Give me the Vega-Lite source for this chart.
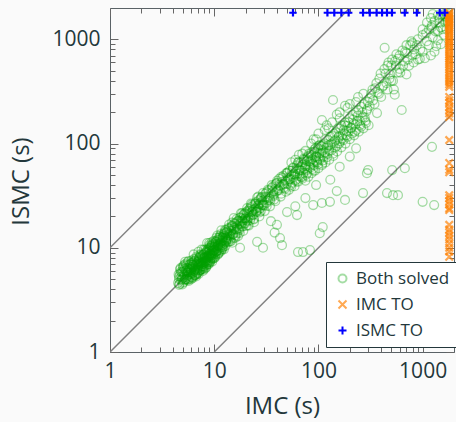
{
"$schema": "https://vega.github.io/schema/vega-lite/v6.json",
"width": 344, "height": 344,
"autosize": {"type": "none"},
"padding": {"left": 110, "top": 8, "right": 2, "bottom": 70},
"background": "#fafafa",
"config": {"view": {"stroke": "#5a6266", "strokeWidth": 1}, "font": "Open Sans"},
"datasets": {
"diag1": [{"x":1,"y":1},{"x":2000,"y":2000}],
"diagA": [{"x":1,"y":10},{"x":200,"y":2000}],
"diagC": [{"x":10,"y":1},{"x":2000,"y":200}],
"green": [
{"x":4.5,"y":4.6},{"x":4.6,"y":5.3},{"x":4.7,"y":6.2},{"x":4.8,"y":4.9},{"x":4.9,"y":5.8},{"x":5.0,"y":5.1},{"x":5.0,"y":6.6},{"x":5.1,"y":4.7},{"x":5.2,"y":5.5},{"x":5.3,"y":6.0},{"x":5.3,"y":7.0},{"x":5.4,"y":5.2},{"x":5.5,"y":5.8},{"x":5.6,"y":4.9},{"x":5.6,"y":6.4},{"x":5.7,"y":5.5},{"x":5.8,"y":6.9},{"x":5.9,"y":5.3},{"x":6.0,"y":6.1},{"x":6.0,"y":5.0},{"x":6.1,"y":7.2},{"x":6.2,"y":5.7},{"x":6.3,"y":6.6},{"x":6.4,"y":5.4},{"x":6.5,"y":6.2},{"x":6.5,"y":7.6},{"x":6.6,"y":5.9},{"x":6.7,"y":6.8},{"x":6.8,"y":5.6},{"x":6.9,"y":7.3},{"x":7.0,"y":6.4},{"x":7.0,"y":5.8},{"x":7.1,"y":7.9},{"x":7.2,"y":6.9},{"x":7.3,"y":6.1},{"x":7.4,"y":7.4},{"x":7.5,"y":6.7},{"x":7.6,"y":8.3},{"x":7.7,"y":6.3},{"x":7.8,"y":7.6},{"x":7.9,"y":7.0},{"x":8.0,"y":8.7},{"x":8.0,"y":6.6},{"x":8.2,"y":7.9},{"x":8.3,"y":7.2},{"x":8.4,"y":9.2},{"x":8.5,"y":7.0},{"x":8.6,"y":8.4},{"x":8.8,"y":7.6},{"x":8.9,"y":9.6},{"x":9.0,"y":8.1},{"x":9.1,"y":7.3},{"x":9.2,"y":8.9},{"x":9.4,"y":10.3},{"x":9.5,"y":8.5},{"x":9.6,"y":7.8},{"x":9.8,"y":9.3},{"x":10.0,"y":10.8},{"x":10.0,"y":8.9},{"x":10.2,"y":8.2},{"x":10.4,"y":9.8},{"x":10.5,"y":11.4},{"x":10.7,"y":9.4},{"x":10.9,"y":10.4},{"x":11.0,"y":8.8},{"x":11.2,"y":12.0},{"x":11.4,"y":10.0},{"x":11.6,"y":11.0},{"x":11.8,"y":9.6},{"x":12.0,"y":12.6},
{"x":4.6,"y":4.4},{"x":4.7,"y":5.6},{"x":4.9,"y":5.0},{"x":5.0,"y":5.9},{"x":5.1,"y":6.8},{"x":5.2,"y":4.9},{"x":5.4,"y":6.1},{"x":5.5,"y":5.0},{"x":5.6,"y":7.3},{"x":5.8,"y":5.6},{"x":5.9,"y":6.3},{"x":6.1,"y":5.2},{"x":6.2,"y":6.9},{"x":6.3,"y":5.8},{"x":6.4,"y":7.8},{"x":6.6,"y":6.4},{"x":6.7,"y":5.3},{"x":6.9,"y":6.1},{"x":7.0,"y":7.0},{"x":7.1,"y":5.6},{"x":7.3,"y":8.2},{"x":7.4,"y":6.5},{"x":7.6,"y":7.2},{"x":7.8,"y":6.0},{"x":7.9,"y":8.6},{"x":8.1,"y":7.4},{"x":8.3,"y":6.4},{"x":8.4,"y":8.0},{"x":8.6,"y":9.5},{"x":8.7,"y":6.9},{"x":8.9,"y":8.3},{"x":9.0,"y":9.9},{"x":9.2,"y":7.6},{"x":9.3,"y":8.7},{"x":9.5,"y":10.6},{"x":9.7,"y":9.0},{"x":9.9,"y":7.9},{"x":10.1,"y":10.1},{"x":10.3,"y":11.6},{"x":10.5,"y":9.2},{"x":10.8,"y":10.9},{"x":11.0,"y":12.4},{"x":11.3,"y":9.5},{"x":11.5,"y":11.3},{"x":11.8,"y":10.4},{"x":12.1,"y":11.8},{"x":12.3,"y":13.5},{"x":12.5,"y":10.9},{"x":12.8,"y":12.4},{"x":13.0,"y":11.3},
{"x":4.55,"y":5.55},{"x":4.65,"y":4.5},{"x":4.75,"y":6.4},{"x":4.85,"y":5.25},{"x":4.95,"y":4.45},{"x":5.05,"y":6.45},{"x":5.15,"y":5.25},{"x":5.25,"y":7.35},{"x":5.35,"y":4.98},{"x":5.45,"y":6.38},{"x":5.55,"y":5.83},{"x":5.65,"y":7.46},{"x":5.75,"y":5.06},{"x":5.85,"y":6.55},{"x":5.95,"y":5.83},{"x":6.05,"y":7.56},{"x":6.15,"y":5.23},{"x":6.25,"y":6.81},{"x":6.35,"y":8.64},{"x":6.45,"y":6.06},{"x":6.55,"y":7.47},{"x":6.65,"y":5.45},{"x":6.75,"y":8.24},{"x":6.85,"y":7.06},{"x":6.95,"y":6.26},{"x":7.05,"y":9.17},{"x":7.15,"y":7.65},{"x":7.25,"y":6.09},{"x":7.35,"y":8.67},{"x":7.45,"y":7.15},{"x":7.55,"y":9.59},{"x":7.65,"y":6.66},{"x":7.75,"y":8.53},{"x":7.85,"y":6.28},{"x":7.95,"y":9.62},{"x":8.05,"y":8.05},{"x":8.15,"y":7.25},{"x":8.25,"y":9.57},{"x":8.35,"y":6.51},{"x":8.45,"y":8.96},{"x":8.55,"y":11.1},{"x":8.65,"y":7.96},{"x":8.75,"y":9.89},{"x":8.85,"y":7.35},{"x":8.95,"y":11.1},{"x":9.05,"y":8.78},{"x":9.15,"y":7.32},{"x":9.25,"y":10.4},{"x":9.35,"y":8.42},{"x":9.45,"y":11.3},{"x":9.55,"y":7.35},{"x":9.65,"y":10.1},{"x":9.75,"y":8.39},{"x":9.85,"y":11.6},{"x":9.95,"y":9.45},{"x":10.1,"y":7.98},{"x":10.3,"y":11.3},{"x":10.5,"y":9.24},{"x":10.7,"y":13.1},{"x":10.9,"y":10.6},{"x":11.1,"y":8.99},{"x":11.3,"y":12.9},{"x":11.5,"y":10.6},{"x":11.7,"y":14.7},{"x":11.9,"y":10.1},{"x":12.1,"y":12.5},{"x":12.4,"y":9.67},{"x":12.7,"y":14.9},{"x":13.0,"y":12.1},{"x":13.3,"y":14.4},{"x":13.6,"y":11.4},{"x":13.9,"y":16.7},{"x":14.2,"y":13.6},{"x":14.5,"y":11.6},{"x":14.8,"y":16.4},{"x":15.1,"y":13.4},{"x":15.4,"y":19.3},{"x":15.7,"y":15.5},{"x":16.0,"y":13.1},{"x":16.4,"y":18.9},{"x":16.8,"y":15.3},{"x":17.2,"y":18.1},{"x":17.6,"y":13.9},{"x":18.0,"y":21.4},{"x":18.4,"y":17.3},{"x":18.8,"y":16.0},{"x":19.2,"y":21.1},{"x":19.7,"y":19.1},{"x":20.2,"y":16.2},{"x":20.7,"y":24.0},{"x":21.2,"y":19.1},{"x":21.7,"y":22.6},{"x":22.2,"y":18.4},{"x":22.8,"y":25.8},{"x":23.4,"y":22.2},{"x":24.0,"y":18.7},{"x":24.6,"y":26.6},{"x":25.2,"y":22.2},{"x":25.8,"y":30.4},{"x":26.5,"y":24.6},{"x":27.2,"y":21.8},{"x":27.9,"y":29.6},{"x":28.6,"y":25.7},{"x":29.4,"y":33.5},{"x":30.2,"y":25.4},{"x":31.0,"y":31.0},{"x":31.9,"y":25.2},{"x":32.8,"y":36.1},{"x":33.7,"y":30.7},{"x":34.6,"y":28.4},{"x":35.6,"y":39.9},{"x":36.6,"y":34.8},{"x":37.6,"y":29.0},{"x":38.7,"y":40.6},{"x":39.8,"y":35.0},
{"x":4.6,"y":5.0},{"x":4.8,"y":5.9},{"x":5.0,"y":4.6},{"x":5.1,"y":5.6},{"x":5.2,"y":6.3},{"x":5.3,"y":5.0},{"x":5.4,"y":6.8},{"x":5.5,"y":5.4},{"x":5.6,"y":6.0},{"x":5.7,"y":4.8},{"x":5.8,"y":6.2},{"x":5.9,"y":7.0},{"x":6.0,"y":5.6},{"x":6.1,"y":6.5},{"x":6.2,"y":5.1},{"x":6.3,"y":7.3},{"x":6.4,"y":6.0},{"x":6.5,"y":5.5},{"x":6.6,"y":7.0},{"x":6.7,"y":6.2},{"x":6.8,"y":8.0},{"x":6.9,"y":5.7},{"x":7.0,"y":6.7},{"x":7.1,"y":7.4},{"x":7.2,"y":6.0},{"x":7.3,"y":7.0},{"x":7.4,"y":8.5},{"x":7.5,"y":6.2},{"x":7.6,"y":6.9},{"x":7.7,"y":7.8},{"x":7.8,"y":6.6},{"x":7.9,"y":7.3},{"x":8.0,"y":6.2},{"x":8.1,"y":8.2},{"x":8.2,"y":9.0},{"x":8.3,"y":7.6},{"x":8.4,"y":6.8},{"x":8.5,"y":8.1},{"x":8.6,"y":7.2},{"x":8.7,"y":9.1},{"x":8.8,"y":8.4},{"x":8.9,"y":7.0},{"x":9.0,"y":9.4},{"x":9.1,"y":8.5},{"x":9.2,"y":7.9},{"x":9.3,"y":10.0},{"x":9.4,"y":8.0},{"x":9.5,"y":9.3},{"x":9.6,"y":8.7},{"x":9.7,"y":11.0},{"x":9.8,"y":8.1},{"x":9.9,"y":10.2},{"x":10.0,"y":9.4},{"x":10.2,"y":10.6},{"x":10.4,"y":8.7},{"x":10.6,"y":10.2},{"x":10.8,"y":11.9},{"x":11.0,"y":9.9},{"x":11.2,"y":10.8},{"x":11.4,"y":12.6},{"x":11.6,"y":9.3},{"x":11.8,"y":11.6},{"x":12.0,"y":10.6},{"x":12.2,"y":12.9},{"x":12.4,"y":11.2},{"x":12.6,"y":13.8},{"x":12.8,"y":10.4},{"x":13.0,"y":12.6},{"x":13.2,"y":11.8},{"x":13.4,"y":13.3},
{"x":12.5,"y":13.0},{"x":12.9,"y":11.6},{"x":13.2,"y":14.1},{"x":13.5,"y":12.5},{"x":13.8,"y":15.2},{"x":14.0,"y":13.2},{"x":14.3,"y":12.0},{"x":14.6,"y":14.6},{"x":15.0,"y":16.2},{"x":15.2,"y":13.6},{"x":15.5,"y":14.9},{"x":15.9,"y":17.0},{"x":16.2,"y":14.2},{"x":16.5,"y":16.0},{"x":16.9,"y":18.2},{"x":17.2,"y":15.2},{"x":17.6,"y":17.1},{"x":18.0,"y":19.5},{"x":18.3,"y":16.0},{"x":18.7,"y":18.1},{"x":19.1,"y":20.6},{"x":19.5,"y":17.2},{"x":20.0,"y":19.2},{"x":20.4,"y":22.0},{"x":20.8,"y":18.0},{"x":21.3,"y":20.8},{"x":21.8,"y":23.5},{"x":22.3,"y":19.3},{"x":22.8,"y":22.0},{"x":23.3,"y":25.0},{"x":23.8,"y":20.8},{"x":24.4,"y":23.6},{"x":25.0,"y":26.5},{"x":25.5,"y":22.0},{"x":26.1,"y":25.3},{"x":26.8,"y":28.5},{"x":27.4,"y":23.8},{"x":28.0,"y":27.0},{"x":28.7,"y":30.5},{"x":29.5,"y":25.5},{"x":30.2,"y":29.0},{"x":31.0,"y":33.0},{"x":31.8,"y":27.0},{"x":32.6,"y":31.0},{"x":33.5,"y":35.5},{"x":34.4,"y":29.5},{"x":35.3,"y":33.5},{"x":36.3,"y":38.5},{"x":37.3,"y":31.5},{"x":38.4,"y":36.5},{"x":39.5,"y":41.5},
{"x":13.0,"y":14.8},{"x":14.1,"y":11.5},{"x":15.3,"y":15.5},{"x":16.6,"y":13.8},{"x":17.9,"y":17.9},{"x":19.3,"y":18.4},{"x":20.6,"y":21.2},{"x":22.0,"y":20.2},{"x":23.5,"y":23.0},{"x":25.2,"y":24.0},{"x":27.0,"y":26.4},{"x":29.0,"y":28.3},{"x":14.8,"y":17.5},{"x":18.5,"y":21.5},{"x":22.5,"y":26.5},{"x":26.5,"y":31.0},{"x":16.0,"y":12.5},{"x":21.0,"y":16.5},{"x":24.0,"y":19.0},{"x":28.0,"y":22.5},
{"x":10.5,"y":12.5},{"x":11.0,"y":10.3},{"x":11.5,"y":13.5},{"x":12.0,"y":9.8},{"x":12.6,"y":14.2},{"x":13.1,"y":12.0},{"x":13.7,"y":15.5},{"x":14.3,"y":13.0},{"x":14.9,"y":11.2},{"x":15.6,"y":17.2},{"x":16.2,"y":15.0},{"x":16.9,"y":12.9},{"x":17.6,"y":19.5},{"x":18.3,"y":16.8},{"x":19.0,"y":14.5},{"x":19.8,"y":21.5},{"x":20.6,"y":18.4},{"x":21.4,"y":16.3},{"x":22.3,"y":24.5},{"x":23.2,"y":20.5},{"x":24.1,"y":17.6},{"x":25.1,"y":27.5},{"x":26.1,"y":23.0},{"x":27.1,"y":20.0},{"x":28.2,"y":30.5},{"x":29.3,"y":26.0},{"x":30.5,"y":22.5},{"x":31.7,"y":34.0},{"x":33.0,"y":28.5},{"x":34.3,"y":25.0},{"x":35.7,"y":37.5},{"x":37.1,"y":32.5},{"x":38.6,"y":28.0},{"x":40.1,"y":44.0},{"x":41.7,"y":35.5},{"x":43.4,"y":31.0},{"x":45.1,"y":47.0},{"x":46.9,"y":40.5},{"x":48.8,"y":34.5},{"x":50.8,"y":53.0},{"x":52.8,"y":45.5},{"x":54.9,"y":38.5},{"x":57.1,"y":59.0},{"x":59.4,"y":50.0},{"x":61.8,"y":43.0},{"x":64.3,"y":66.0},{"x":66.9,"y":56.0},{"x":69.6,"y":47.5},{"x":72.4,"y":72.0},{"x":75.3,"y":61.0},{"x":78.3,"y":52.0},{"x":81.4,"y":80.0},{"x":84.7,"y":68.0},{"x":88.1,"y":57.0},{"x":91.6,"y":88.0},{"x":95.3,"y":74.0},{"x":99.1,"y":63.0},{"x":103,"y":97},{"x":107,"y":81},{"x":111,"y":69},{"x":6.0,"y":6.9},{"x":6.6,"y":5.5},{"x":7.2,"y":8.0},{"x":7.8,"y":7.0},{"x":8.4,"y":7.5},{"x":9.0,"y":10.6},{"x":9.6,"y":9.6},{"x":10.2,"y":9.0},{"x":10.8,"y":8.6},{"x":11.4,"y":11.8},{"x":12.2,"y":10.2},{"x":13.0,"y":13.8},{"x":13.8,"y":12.2},{"x":14.6,"y":15.8},{"x":15.4,"y":12.4},{"x":16.4,"y":17.6},{"x":17.4,"y":14.8},{"x":18.6,"y":19.0},{"x":19.8,"y":17.0},{"x":21.0,"y":22.8},
{"x":40,"y":42},{"x":41,"y":36},{"x":42,"y":46},{"x":43,"y":39},{"x":44,"y":33},{"x":45,"y":43},{"x":46,"y":49},{"x":47,"y":38},{"x":48,"y":44},{"x":49,"y":52},{"x":50,"y":41},{"x":51,"y":47},{"x":52,"y":36},{"x":53,"y":55},{"x":54,"y":45},{"x":55,"y":50},{"x":56,"y":42},{"x":57,"y":58},{"x":58,"y":48},{"x":59,"y":39},{"x":60,"y":54},{"x":61,"y":45},{"x":62,"y":62},{"x":63,"y":51},{"x":64,"y":43},{"x":65,"y":57},{"x":66,"y":49},{"x":68,"y":66},{"x":69,"y":55},{"x":70,"y":46},{"x":71,"y":60},{"x":72,"y":52},{"x":74,"y":70},{"x":75,"y":44},{"x":76,"y":63},{"x":78,"y":56},{"x":79,"y":74},{"x":80,"y":48},{"x":82,"y":67},{"x":84,"y":59},{"x":85,"y":78},{"x":86,"y":52},{"x":88,"y":71},{"x":90,"y":62},{"x":92,"y":84},{"x":93,"y":55},{"x":95,"y":76},{"x":97,"y":66},{"x":99,"y":90},{"x":100,"y":58},{"x":102,"y":80},{"x":104,"y":70},{"x":106,"y":95},{"x":108,"y":62},{"x":110,"y":86},{"x":112,"y":75},{"x":115,"y":100},{"x":117,"y":66},{"x":120,"y":92},{"x":122,"y":80},{"x":125,"y":108},{"x":127,"y":70},{"x":130,"y":98},{"x":133,"y":86},{"x":136,"y":118},{"x":139,"y":76},{"x":142,"y":105},{"x":145,"y":92},{"x":148,"y":128},{"x":151,"y":84},{"x":155,"y":114},{"x":158,"y":100},{"x":162,"y":140},{"x":166,"y":92},{"x":170,"y":122},{"x":174,"y":108},{"x":178,"y":150},{"x":182,"y":100},{"x":186,"y":132},{"x":190,"y":116},{"x":195,"y":160},{"x":200,"y":110},{"x":205,"y":142},{"x":210,"y":125},{"x":215,"y":170},{"x":220,"y":120},{"x":226,"y":152},{"x":232,"y":135},{"x":238,"y":185},{"x":244,"y":130},{"x":250,"y":165},{"x":257,"y":145},{"x":264,"y":200},{"x":270,"y":140},{"x":278,"y":178},{"x":286,"y":158},{"x":295,"y":215},{"x":303,"y":150},
{"x":42,"y":40},{"x":44,"y":48},{"x":46,"y":41},{"x":48,"y":37},{"x":50,"y":52},{"x":52,"y":45},{"x":54,"y":40},{"x":56,"y":55},{"x":58,"y":51},{"x":60,"y":44},{"x":62,"y":57},{"x":64,"y":66},{"x":66,"y":55},{"x":68,"y":48},{"x":70,"y":63},{"x":72,"y":70},{"x":74,"y":58},{"x":76,"y":50},{"x":78,"y":68},{"x":80,"y":76},{"x":82,"y":60},{"x":84,"y":70},{"x":86,"y":82},{"x":88,"y":64},{"x":90,"y":55},{"x":92,"y":74},{"x":94,"y":90},{"x":96,"y":68},{"x":98,"y":82},{"x":100,"y":95},{"x":103,"y":72},{"x":106,"y":88},{"x":109,"y":64},{"x":112,"y":97},{"x":115,"y":82},{"x":118,"y":110},{"x":121,"y":74},{"x":124,"y":96},{"x":127,"y":86},{"x":130,"y":116},{"x":134,"y":100},{"x":138,"y":80},{"x":142,"y":124},{"x":146,"y":108},{"x":150,"y":95},{"x":154,"y":140},{"x":158,"y":118},{"x":162,"y":105},{"x":166,"y":150},{"x":170,"y":112},{"x":175,"y":135},{"x":180,"y":160},{"x":185,"y":120},{"x":190,"y":148},{"x":195,"y":130},{"x":200,"y":175},{"x":206,"y":140},{"x":212,"y":190},{"x":218,"y":155},{"x":224,"y":130},{"x":230,"y":200},{"x":236,"y":165},{"x":242,"y":210},{"x":250,"y":150},{"x":258,"y":225},{"x":266,"y":180},{"x":274,"y":240},{"x":282,"y":165},{"x":290,"y":205},{"x":298,"y":250},{"x":60,"y":70},{"x":75,"y":85},{"x":95,"y":110},{"x":115,"y":135},{"x":135,"y":160},{"x":160,"y":175},{"x":190,"y":220},{"x":230,"y":250},{"x":270,"y":300},
{"x":55,"y":66},{"x":70,"y":80},{"x":85,"y":100},{"x":100,"y":125},{"x":120,"y":150},{"x":150,"y":190},{"x":180,"y":230},{"x":108,"y":168},{"x":138,"y":262},{"x":125,"y":140},{"x":160,"y":200},{"x":90,"y":110},{"x":65,"y":78},{"x":200,"y":240},{"x":240,"y":280},
{"x":310,"y":230},{"x":320,"y":300},{"x":335,"y":260},{"x":350,"y":340},{"x":365,"y":196},{"x":370,"y":310},{"x":385,"y":420},{"x":400,"y":280},{"x":420,"y":360},{"x":432,"y":830},{"x":440,"y":470},{"x":460,"y":330},{"x":480,"y":420},{"x":500,"y":560},{"x":520,"y":400},{"x":540,"y":294},{"x":545,"y":620},{"x":570,"y":480},{"x":600,"y":700},{"x":630,"y":210},{"x":650,"y":560},{"x":680,"y":760},{"x":700,"y":460},{"x":720,"y":640},{"x":760,"y":880},{"x":800,"y":920},{"x":820,"y":600},{"x":860,"y":720},{"x":900,"y":1000},{"x":950,"y":800},{"x":1000,"y":1100},{"x":1050,"y":660},{"x":1100,"y":960},{"x":1150,"y":1250},{"x":1230,"y":1370},{"x":1250,"y":1050},{"x":1300,"y":1500},{"x":1350,"y":860},{"x":1400,"y":1200},{"x":1450,"y":1600},{"x":1500,"y":1300},{"x":1550,"y":1700},{"x":1600,"y":1100},{"x":1650,"y":1450},{"x":1700,"y":1650},{"x":1300,"y":760},{"x":1500,"y":900},{"x":1200,"y":700},{"x":1100,"y":1450},{"x":1000,"y":760},{"x":900,"y":640},{"x":800,"y":700},{"x":700,"y":880},{"x":600,"y":520},{"x":560,"y":720},{"x":500,"y":400},{"x":460,"y":560},{"x":1400,"y":980},{"x":1600,"y":1750},{"x":1750,"y":1500},{"x":1250,"y":1750},{"x":1700,"y":1250},
{"x":310,"y":270},{"x":330,"y":330},{"x":345,"y":240},{"x":360,"y":380},{"x":380,"y":300},{"x":395,"y":470},{"x":410,"y":350},{"x":430,"y":520},{"x":450,"y":380},{"x":470,"y":600},{"x":490,"y":460},{"x":510,"y":640},{"x":530,"y":330},{"x":555,"y":560},{"x":580,"y":650},{"x":610,"y":480},{"x":640,"y":780},{"x":670,"y":620},{"x":700,"y":740},{"x":740,"y":560},{"x":780,"y":960},{"x":830,"y":800},{"x":880,"y":880},{"x":940,"y":650},{"x":1000,"y":1250},{"x":1080,"y":1150},{"x":1150,"y":880},{"x":1220,"y":1300},{"x":1320,"y":1200},{"x":1450,"y":1450},{"x":1550,"y":1250},{"x":1650,"y":1650},{"x":1750,"y":1750},{"x":1400,"y":1700},{"x":1200,"y":1600},
{"x":40,"y":16.6},{"x":42.8,"y":12.4},{"x":44.7,"y":10.6},{"x":29.4,"y":10},{"x":25.8,"y":11.4},{"x":17.7,"y":10},{"x":63.7,"y":9.1},{"x":62.3,"y":20.6},{"x":71,"y":9.1},{"x":83,"y":9.5},{"x":103,"y":13.8},{"x":110,"y":15.8},{"x":129,"y":27.6},{"x":108,"y":26.9},{"x":180,"y":28.8},{"x":268,"y":33.5},{"x":300,"y":55.7},{"x":292,"y":52},{"x":510,"y":55.7},{"x":675,"y":58},{"x":455,"y":33.5},{"x":520,"y":32},{"x":580,"y":32},{"x":1000,"y":27.6},{"x":1290,"y":25.7},{"x":1230,"y":93},{"x":89,"y":25.7},{"x":75,"y":30},{"x":95,"y":40},{"x":130,"y":45},{"x":160,"y":60},{"x":200,"y":75},{"x":230,"y":90},{"x":150,"y":35},{"x":60,"y":25},{"x":50,"y":22},{"x":35,"y":18},{"x":38,"y":14}
],
"timeouts": [
{"x":1800,"y":1800,"t":"IMC TO"},{"x":1800,"y":1750,"t":"IMC TO"},{"x":1800,"y":1700,"t":"IMC TO"},{"x":1800,"y":1650,"t":"IMC TO"},{"x":1800,"y":1600,"t":"IMC TO"},{"x":1800,"y":1550,"t":"IMC TO"},{"x":1800,"y":1500,"t":"IMC TO"},{"x":1800,"y":1450,"t":"IMC TO"},{"x":1800,"y":1400,"t":"IMC TO"},{"x":1800,"y":1350,"t":"IMC TO"},{"x":1800,"y":1300,"t":"IMC TO"},{"x":1800,"y":1250,"t":"IMC TO"},{"x":1800,"y":1200,"t":"IMC TO"},{"x":1800,"y":1150,"t":"IMC TO"},{"x":1800,"y":1100,"t":"IMC TO"},{"x":1800,"y":1050,"t":"IMC TO"},{"x":1800,"y":1000,"t":"IMC TO"},{"x":1800,"y":960,"t":"IMC TO"},{"x":1800,"y":920,"t":"IMC TO"},{"x":1800,"y":880,"t":"IMC TO"},{"x":1800,"y":840,"t":"IMC TO"},{"x":1800,"y":800,"t":"IMC TO"},{"x":1800,"y":760,"t":"IMC TO"},{"x":1800,"y":720,"t":"IMC TO"},{"x":1800,"y":690,"t":"IMC TO"},{"x":1800,"y":660,"t":"IMC TO"},{"x":1800,"y":630,"t":"IMC TO"},{"x":1800,"y":600,"t":"IMC TO"},{"x":1800,"y":570,"t":"IMC TO"},{"x":1800,"y":540,"t":"IMC TO"},{"x":1800,"y":510,"t":"IMC TO"},{"x":1800,"y":480,"t":"IMC TO"},{"x":1800,"y":455,"t":"IMC TO"},{"x":1800,"y":430,"t":"IMC TO"},{"x":1800,"y":410,"t":"IMC TO"},{"x":1800,"y":390,"t":"IMC TO"},{"x":1800,"y":370,"t":"IMC TO"},{"x":1800,"y":350,"t":"IMC TO"},{"x":1800,"y":280,"t":"IMC TO"},{"x":1800,"y":260,"t":"IMC TO"},{"x":1800,"y":246,"t":"IMC TO"},{"x":1800,"y":225,"t":"IMC TO"},{"x":1800,"y":210,"t":"IMC TO"},{"x":1800,"y":195,"t":"IMC TO"},{"x":1800,"y":180,"t":"IMC TO"},{"x":1800,"y":108,"t":"IMC TO"},{"x":1800,"y":65,"t":"IMC TO"},{"x":1800,"y":56,"t":"IMC TO"},{"x":1800,"y":53,"t":"IMC TO"},{"x":1800,"y":32,"t":"IMC TO"},{"x":1800,"y":30,"t":"IMC TO"},{"x":1800,"y":28,"t":"IMC TO"},{"x":1800,"y":26,"t":"IMC TO"},{"x":1800,"y":24,"t":"IMC TO"},{"x":1800,"y":23,"t":"IMC TO"},{"x":1800,"y":16.6,"t":"IMC TO"},{"x":1800,"y":15,"t":"IMC TO"},{"x":1800,"y":14,"t":"IMC TO"},{"x":1800,"y":13,"t":"IMC TO"},{"x":1800,"y":12,"t":"IMC TO"},{"x":1800,"y":11,"t":"IMC TO"},{"x":1800,"y":10,"t":"IMC TO"},{"x":1800,"y":9.2,"t":"IMC TO"},{"x":1800,"y":8.2,"t":"IMC TO"},{"x":1800,"y":5.7,"t":"IMC TO"},
{"x":57,"y":1800,"t":"ISMC TO"},{"x":122,"y":1800,"t":"ISMC TO"},{"x":142,"y":1800,"t":"ISMC TO"},{"x":166,"y":1800,"t":"ISMC TO"},{"x":195,"y":1800,"t":"ISMC TO"},{"x":268,"y":1800,"t":"ISMC TO"},{"x":311,"y":1800,"t":"ISMC TO"},{"x":362,"y":1800,"t":"ISMC TO"},{"x":408,"y":1800,"t":"ISMC TO"},{"x":455,"y":1800,"t":"ISMC TO"},{"x":508,"y":1800,"t":"ISMC TO"},{"x":674,"y":1800,"t":"ISMC TO"},{"x":880,"y":1800,"t":"ISMC TO"},{"x":1460,"y":1800,"t":"ISMC TO"},{"x":1630,"y":1800,"t":"ISMC TO"}
]
},
"layer": [
{
"data": {"name": "diag1"},
"mark": {"type": "line", "color": "#808080", "strokeWidth": 1.5, "clip": true},
"encoding": {
"x": {"field": "x", "type": "quantitative", "scale": {"type": "log", "domain": [1, 2000], "nice": false},
 "axis": {"orient": "bottom", "title": "IMC (s)", "values": [1,10,100,1000], "format": "d", "labelOverlap": false, "labelFlush": false, "grid": false,
  "ticks": false, "domain": false, "labelColor": "#23373b", "labelFontSize": 21, "labelPadding": 8, "labelFont": "Open Sans",
  "titleColor": "#23373b", "titleFontSize": 24, "titleFontWeight": "normal", "titleFont": "Open Sans", "titleX": 172, "titleY": 54, "titleBaseline": "middle", "titleAlign": "center"}},
"y": {"field": "y", "type": "quantitative", "scale": {"type": "log", "domain": [1, 2000], "nice": false},
 "axis": {"orient": "left", "title": "ISMC (s)", "values": [1,10,100,1000], "format": "d", "labelOverlap": false, "labelFlush": false, "grid": false,
  "ticks": false, "domain": false, "labelColor": "#23373b", "labelFontSize": 21, "labelPadding": 10, "labelFont": "Open Sans",
  "titleColor": "#23373b", "titleFontSize": 24, "titleFontWeight": "normal", "titleFont": "Open Sans", "titleX": -89, "titleY": 173, "titleBaseline": "middle", "titleAlign": "center", "titleAngle": -90}}
}
},
{
"data": {"name": "diagA"},
"mark": {"type": "line", "color": "#808080", "strokeWidth": 1.5, "clip": true},
"encoding": {
"x": {"field": "x", "type": "quantitative", "scale": {"type": "log", "domain": [1, 2000], "nice": false},
 "axis": {"orient": "top", "offset": -344, "title": null, "labels": false, "domain": false, "grid": false, "values": [1,10,100,1000], "ticks": true, "tickSize": 8, "tickWidth": 1, "tickColor": "#666666"}},
"y": {"field": "y", "type": "quantitative", "scale": {"type": "log", "domain": [1, 2000], "nice": false},
 "axis": {"orient": "right", "offset": -344, "title": null, "labels": false, "domain": false, "grid": false, "values": [1,10,100,1000], "ticks": true, "tickSize": 8, "tickWidth": 1, "tickColor": "#666666"}}
}
},
{
"data": {"name": "diagC"},
"mark": {"type": "line", "color": "#808080", "strokeWidth": 1.5, "clip": true},
"encoding": {
"x": {"field": "x", "type": "quantitative", "scale": {"type": "log", "domain": [1, 2000], "nice": false},
 "axis": {"orient": "top", "offset": -344, "title": null, "labels": false, "domain": false, "grid": false, "values": [2,3,4,5,6,7,8,9,20,30,40,50,60,70,80,90,200,300,400,500,600,700,800,900], "ticks": true, "tickSize": 5, "tickWidth": 1, "tickColor": "#666666"}},
"y": {"field": "y", "type": "quantitative", "scale": {"type": "log", "domain": [1, 2000], "nice": false},
 "axis": {"orient": "right", "offset": -344, "title": null, "labels": false, "domain": false, "grid": false, "values": [2,3,4,5,6,7,8,9,20,30,40,50,60,70,80,90,200,300,400,500,600,700,800,900], "ticks": true, "tickSize": 5, "tickWidth": 1, "tickColor": "#666666"}}
}
},
{
"data": {"name": "green"},
"mark": {"type": "point", "filled": false, "size": 78, "strokeWidth": 1.3, "clip": true},
"encoding": {
"x": {"field": "x", "type": "quantitative", "scale": {"type": "log", "domain": [1, 2000], "nice": false},
 "axis": {"orient": "bottom", "offset": -344, "title": null, "labels": false, "domain": false, "grid": false, "values": [1,10,100,1000], "ticks": true, "tickSize": 8, "tickWidth": 1, "tickColor": "#666666"}},
"y": {"field": "y", "type": "quantitative", "scale": {"type": "log", "domain": [1, 2000], "nice": false},
 "axis": {"orient": "left", "offset": -344, "title": null, "labels": false, "domain": false, "grid": false, "values": [1,10,100,1000], "ticks": true, "tickSize": 8, "tickWidth": 1, "tickColor": "#666666"}},
"color": {"datum": "Both solved", "type": "nominal", "scale": {"domain": ["Both solved", "IMC TO", "ISMC TO"], "range": ["#00a000", "#ff8000", "#0000ff"]},
 "legend": {"title": null, "orient": "none", "legendX": 216, "legendY": 254, "strokeColor": "#23373b", "fillColor": "#ffffff", "padding": 8, "rowPadding": 8,
  "labelFontSize": 17, "labelColor": "#23373b", "labelFont": "Open Sans", "symbolSize": 64, "symbolStrokeWidth": 2, "labelOffset": 5, "cornerRadius": 0}},
"shape": {"datum": "Both solved", "type": "nominal", "scale": {"domain": ["Both solved", "IMC TO", "ISMC TO"], "range": ["circle", "M-1,-1L1,1M-1,1L1,-1", "M-1,0L1,0M0,-1L0,1"]}},
"opacity": {"datum": "Both solved", "type": "nominal", "scale": {"domain": ["Both solved", "IMC TO", "ISMC TO"], "range": [0.35, 1, 1]}}
}
},
{
"data": {"name": "timeouts"},
"mark": {"type": "point", "filled": false, "size": 56, "strokeWidth": 2.2, "clip": true},
"encoding": {
"x": {"field": "x", "type": "quantitative", "scale": {"type": "log", "domain": [1, 2000], "nice": false},
 "axis": {"orient": "bottom", "offset": -344, "title": null, "labels": false, "domain": false, "grid": false, "values": [2,3,4,5,6,7,8,9,20,30,40,50,60,70,80,90,200,300,400,500,600,700,800,900], "ticks": true, "tickSize": 5, "tickWidth": 1, "tickColor": "#666666"}},
"y": {"field": "y", "type": "quantitative", "scale": {"type": "log", "domain": [1, 2000], "nice": false},
 "axis": {"orient": "left", "offset": -344, "title": null, "labels": false, "domain": false, "grid": false, "values": [2,3,4,5,6,7,8,9,20,30,40,50,60,70,80,90,200,300,400,500,600,700,800,900], "ticks": true, "tickSize": 5, "tickWidth": 1, "tickColor": "#666666"}},
"color": {"field": "t", "type": "nominal", "scale": {"domain": ["Both solved", "IMC TO", "ISMC TO"], "range": ["#00a000", "#ff8000", "#0000ff"]},
 "legend": {"title": null, "orient": "none", "legendX": 216, "legendY": 254, "strokeColor": "#23373b", "fillColor": "#ffffff", "padding": 8, "rowPadding": 8,
  "labelFontSize": 17, "labelColor": "#23373b", "labelFont": "Open Sans", "symbolSize": 64, "symbolStrokeWidth": 2, "labelOffset": 5, "cornerRadius": 0}},
"shape": {"field": "t", "type": "nominal", "scale": {"domain": ["Both solved", "IMC TO", "ISMC TO"], "range": ["circle", "M-1,-1L1,1M-1,1L1,-1", "M-1,0L1,0M0,-1L0,1"]}},
"opacity": {"field": "t", "type": "nominal", "scale": {"domain": ["Both solved", "IMC TO", "ISMC TO"], "range": [0.35, 1, 1]}}
}
}
],
"resolve": {"axis": {"x": "independent", "y": "independent"}}
}
